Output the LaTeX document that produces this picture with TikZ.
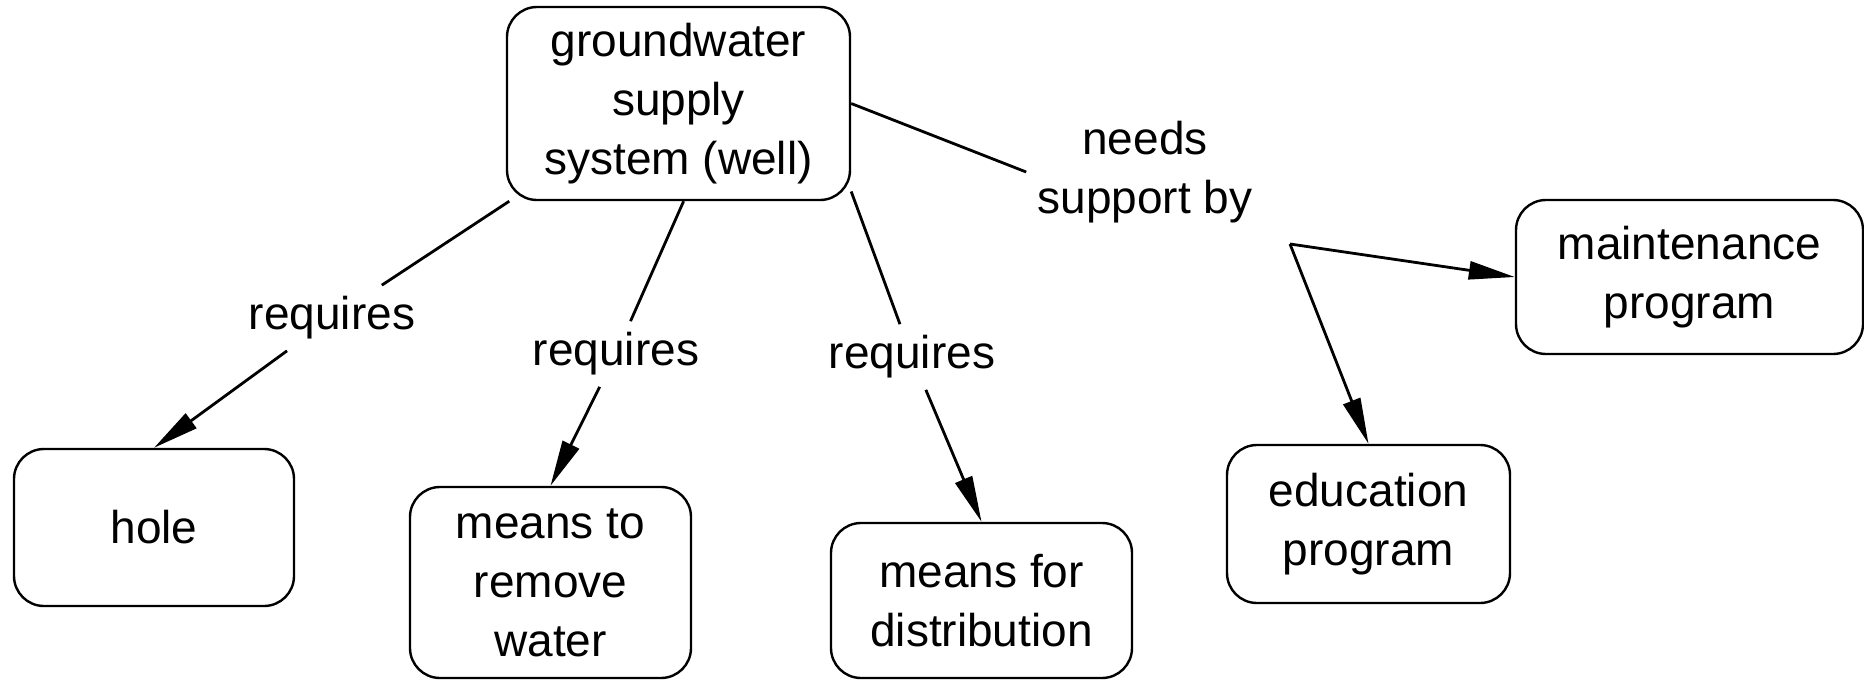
\documentclass[tikz,border=0pt]{standalone}
\usepackage{fontspec}
\setmainfont{Liberation Sans}
\usetikzlibrary{arrows.meta}

\begin{document}
\begin{tikzpicture}[x=0.5pt, y=-0.5pt, line width=1.4pt, >={Triangle[length=23pt,width=9pt]},
	font=\fontsize{23}{29.5}\selectfont,
	concept/.style={draw,rounded corners=15pt,align=center,inner sep=0pt,line width=1.2pt},
	link/.style={align=center,inner sep=5pt}]
	\useasboundingbox (0,0) rectangle (1864,681);
	\node[concept,minimum width=171.5pt,minimum height=96.5pt] (well) at (678.5,103.5) {groundwater\\supply\\system (well)};
	\node[concept,minimum width=140pt,minimum height=78.5pt] (hole) at (154,527.5) {hole};
	\node[concept,minimum width=140.5pt,minimum height=95.5pt] (remove) at (550.5,582.5) {means to\\remove\\water};
	\node[concept,minimum width=150.5pt,minimum height=77.5pt] (dist) at (981.5,600.5) {means for\\distribution};
	\node[concept,minimum width=141.5pt,minimum height=79pt] (edu) at (1368.5,524) {education\\program};
	\node[concept,minimum width=173.5pt,minimum height=77pt] (maint) at (1689.5,277) {maintenance\\program};
	\node[link] (req_hole) at (332,318) {requires};
	\node[link] (req_remove) at (616,354) {requires};
	\node[link] (req_dist) at (912,357) {requires};
	\node[link] (needs) at (1145,172) {needs\\support by};
	\coordinate (split) at (1290,244);
	\draw (well.210) to (req_hole);
	\draw[->] (req_hole) to (hole.north);
	\draw (well.273) to (req_remove);
	\draw[->] (req_remove) to (remove.north);
	\draw (well.-27) to (req_dist);
	\draw[->] (req_dist) to (dist.north);
	\draw (well.east) to (needs.west);
	\draw[->] (split) to (maint.west);
	\draw[->] (split) to (edu.north);
\end{tikzpicture}
\end{document}
